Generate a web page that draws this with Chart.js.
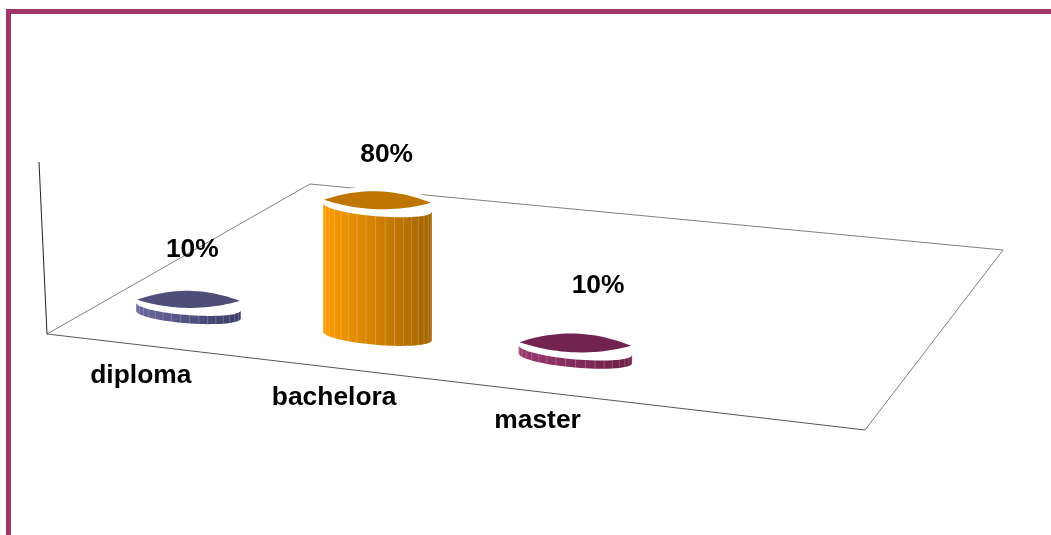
<!DOCTYPE html>
<html>
<head>
<meta charset="utf-8">
<script src="https://cdn.jsdelivr.net/npm/chart.js@4"></script>
<style>
    html, body { margin: 0; background: #fff; overflow: hidden; }
    #frame { position: absolute; left: 6px; top: 9px; width: 1045px; height: 526px; box-sizing: border-box;
             border-top: 5px solid #9e3568; border-left: 5px solid #9e3568; }
    #chart { position: absolute; left: 0; top: 0; }
</style>
</head>
<body>
<div id="frame"></div>
<canvas id="chart" width="1051" height="535"></canvas>
<script>
const categories = ['diploma', 'bachelora', 'master', ''];
const percentValues = [10, 80, 10, null];

const sideLightColors = ['#66679d', '#ff9c00', '#9c376f'];
const sideDarkColors = ['#3c3c68', '#a06300', '#6b1f48'];
const topColors = ['#4f4e78', '#bf7600', '#73234f'];

const valueLabelOffsets = [[4, -48], [9.5, -44], [23, -55]];
const categoryLabelOffsets = [[-47.5, 61], [-43, 62], [-37.5, 63]];

// floor of the 3d box, corners in canvas pixels
const floorCorners = { front: [47, 334], right: [865, 430], back: [1003, 250], left: [310, 184] };
const axisTop = [39, 162];
const floorDepth = 0.17;
const radiusU = 0.069;
const radiusV = 0.044;
const topGap = 9;
const lensTiltCut = 6;
const lensDrop = 3;

const floorPoint = makeFloorProjection(floorCorners);

function makeFloorProjection(c) {
    const dx1 = c.right[0] - c.back[0], dx2 = c.left[0] - c.back[0];
    const dy1 = c.right[1] - c.back[1], dy2 = c.left[1] - c.back[1];
    const sx = c.front[0] - c.right[0] + c.back[0] - c.left[0];
    const sy = c.front[1] - c.right[1] + c.back[1] - c.left[1];
    const den = dx1 * dy2 - dx2 * dy1;
    const g = (sx * dy2 - dx2 * sy) / den;
    const h = (dx1 * sy - sx * dy1) / den;
    const a = c.right[0] - c.front[0] + g * c.right[0];
    const b = c.left[0] - c.front[0] + h * c.left[0];
    const d = c.right[1] - c.front[1] + g * c.right[1];
    const e = c.left[1] - c.front[1] + h * c.left[1];
    return (u, v) => {
        const w = g * u + h * v + 1;
        return [(a * u + b * v + c.front[0]) / w, (d * u + e * v + c.front[1]) / w];
    };
}

function floorU(x) {
    return (x - floorCorners.front[0]) / (floorCorners.right[0] - floorCorners.front[0]);
}

function tracePath(ctx, points) {
    ctx.beginPath();
    points.forEach((p, i) => i ? ctx.lineTo(p[0], p[1]) : ctx.moveTo(p[0], p[1]));
    ctx.closePath();
}

function drawFloor(ctx) {
    const c = floorCorners;
    ctx.lineWidth = 1;
    ctx.strokeStyle = '#808080';
    ctx.beginPath();
    ctx.moveTo(c.front[0], c.front[1]);
    ctx.lineTo(c.left[0], c.left[1]);
    ctx.lineTo(c.back[0], c.back[1]);
    ctx.lineTo(c.right[0], c.right[1]);
    ctx.stroke();
    ctx.strokeStyle = '#555';
    ctx.beginPath();
    ctx.moveTo(c.front[0], c.front[1]);
    ctx.lineTo(c.right[0], c.right[1]);
    ctx.stroke();
    ctx.strokeStyle = '#222';
    ctx.beginPath();
    ctx.moveTo(c.front[0], c.front[1]);
    ctx.lineTo(axisTop[0], axisTop[1]);
    ctx.stroke();
}

function lensPoints(L, R, sagUp, sagDown) {
    const pts = [];
    for (let i = 0; i <= 24; i++) {
        const t = i / 24;
        pts.push([L[0] + (R[0] - L[0]) * t, L[1] + (R[1] - L[1]) * t - 4 * sagUp * t * (1 - t)]);
    }
    for (let i = 23; i > 0; i--) {
        const t = i / 24;
        pts.push([L[0] + (R[0] - L[0]) * t, L[1] + (R[1] - L[1]) * t + 4 * sagDown * t * (1 - t)]);
    }
    return pts;
}

function drawCylinder(ctx, u, height, index) {
    const n = 72;
    const ring = [];
    for (let i = 0; i < n; i++) {
        const t = 2 * Math.PI * i / n;
        ring.push(floorPoint(u + radiusU * Math.cos(t), floorDepth + radiusV * Math.sin(t)));
    }
    let iL = 0, iR = 0;
    ring.forEach((p, i) => {
        if (p[0] < ring[iL][0]) iL = i;
        if (p[0] > ring[iR][0]) iR = i;
    });
    // front half of the ring, left to right
    const front = [];
    for (let i = iL; ; i = (i + 1) % n) { front.push(ring[i]); if (i === iR) break; }

    const L = ring[iL], R = ring[iR];
    const up = (p, dy) => [p[0], p[1] - dy];
    const ys = ring.map(p => p[1]);
    const sag = (Math.max(...ys) - Math.min(...ys)) / 2;

    // top face is a pointed lens
    const tipL = [L[0] + 1, L[1] - height + lensDrop + lensTiltCut / 2];
    const tipR = [R[0] - 1, R[1] - height + lensDrop - lensTiltCut / 2];
    const lens = lensPoints(tipL, tipR, sag * 1.0, sag * 0.8);
    const bodyHeight = height - topGap;
    const body = front.concat(front.slice().reverse().map(p => up(p, bodyHeight)));

    // white halo keeps the floor lines away from the cylinder
    ctx.lineJoin = 'round';
    ctx.strokeStyle = '#fff';
    ctx.fillStyle = '#fff';
    ctx.lineWidth = 9;
    tracePath(ctx, lens);
    ctx.stroke();
    ctx.fill();
    ctx.lineWidth = 3;
    tracePath(ctx, body);
    ctx.stroke();

    const grad = ctx.createLinearGradient(L[0], 0, R[0], 0);
    grad.addColorStop(0, sideLightColors[index]);
    grad.addColorStop(1, sideDarkColors[index]);
    ctx.fillStyle = grad;
    tracePath(ctx, body);
    ctx.fill();

    // facet lines
    ctx.strokeStyle = 'rgba(255,255,255,0.22)';
    ctx.lineWidth = 1;
    for (let i = 2; i < front.length - 1; i += 2) {
        const p = front[i];
        ctx.beginPath();
        ctx.moveTo(p[0], p[1]);
        ctx.lineTo(p[0], p[1] - bodyHeight);
        ctx.stroke();
    }

    ctx.fillStyle = topColors[index];
    tracePath(ctx, lens);
    ctx.fill();
}

const cylinderPlugin = {
    id: 'cylinders',
    afterDatasetsDraw(chart) {
        const ctx = chart.ctx;
        const bars = chart.getDatasetMeta(0).data;
        ctx.save();
        drawFloor(ctx);
        bars.forEach((bar, i) => {
            if (percentValues[i] === null) return;
            drawCylinder(ctx, floorU(bar.x), bar.base - bar.y, i);
        });
        ctx.fillStyle = '#000';
        ctx.font = 'bold 26.4px "Liberation Sans", Arial, sans-serif';
        ctx.textAlign = 'center';
        ctx.textBaseline = 'middle';
        bars.forEach((bar, i) => {
            if (percentValues[i] === null) return;
            const b = floorPoint(floorU(bar.x), floorDepth);
            const h = bar.base - bar.y;
            ctx.fillText(percentValues[i] + '%', b[0] + valueLabelOffsets[i][0], b[1] - h + valueLabelOffsets[i][1]);
            ctx.fillText(categories[i], b[0] + categoryLabelOffsets[i][0], b[1] + categoryLabelOffsets[i][1]);
        });
        ctx.restore();
    }
};

new Chart(document.getElementById('chart'), {
    type: 'bar',
    data: {
        labels: categories,
        datasets: [{
            data: percentValues,
            backgroundColor: 'rgba(0,0,0,0)'
        }]
    },
    options: {
        animation: false,
        responsive: false,
        layout: { padding: { left: 45, right: 188, top: 162, bottom: 201 } },
        plugins: { legend: { display: false }, tooltip: { enabled: false } },
        scales: {
            x: { display: false },
            y: { display: false, min: 0, max: 100 }
        }
    },
    plugins: [cylinderPlugin]
});
</script>
</body>
</html>
